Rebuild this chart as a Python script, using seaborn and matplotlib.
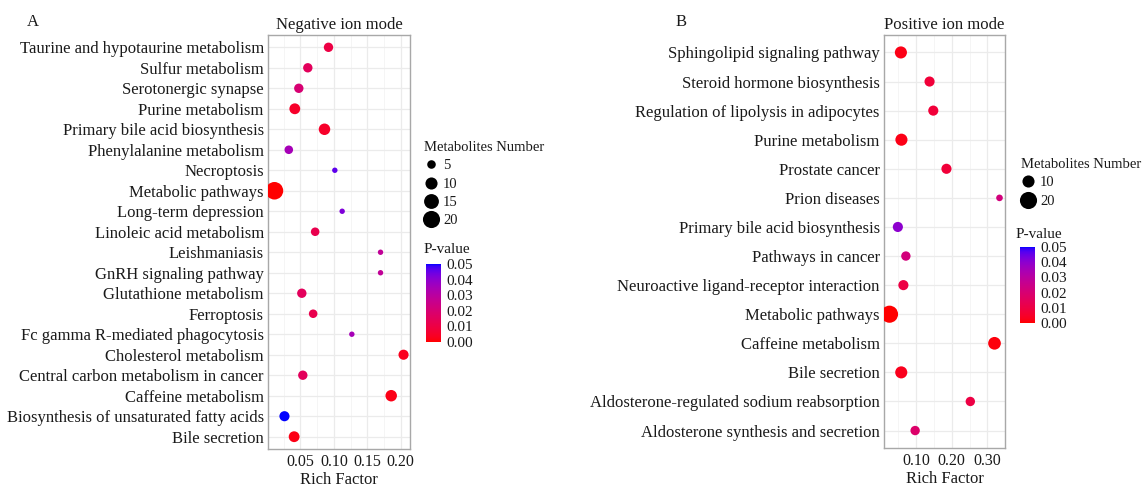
import numpy as np
import pandas as pd
import matplotlib
matplotlib.use("Agg")
import matplotlib.pyplot as plt
import seaborn as sns
from matplotlib.colors import ListedColormap, Normalize
from matplotlib.lines import Line2D
import matplotlib.cm as cm

# ---------------- data ----------------
neg_pathways = ["Taurine and hypotaurine metabolism", "Sulfur metabolism", "Serotonergic synapse",
                "Purine metabolism", "Primary bile acid biosynthesis", "Phenylalanine metabolism",
                "Necroptosis", "Metabolic pathways", "Long-term depression", "Linoleic acid metabolism",
                "Leishmaniasis", "GnRH signaling pathway", "Glutathione metabolism", "Ferroptosis",
                "Fc gamma R-mediated phagocytosis", "Cholesterol metabolism",
                "Central carbon metabolism in cancer", "Caffeine metabolism",
                "Biosynthesis of unsaturated fatty acids", "Bile secretion"]
neg_rich = [0.092, 0.061, 0.0475, 0.0415, 0.086, 0.0325, 0.1015, 0.011, 0.1125, 0.072,
            0.170, 0.170, 0.052, 0.069, 0.127, 0.2045, 0.0535, 0.186, 0.026, 0.0405]
neg_count = [6, 6, 6, 8, 9, 5, 2, 21, 2, 5, 2, 2, 6, 5, 2, 7, 6, 9, 7, 8]
neg_p = [0.010, 0.015, 0.020, 0.005, 0.005, 0.035, 0.046, 0.000, 0.042, 0.012,
         0.028, 0.028, 0.015, 0.012, 0.035, 0.003, 0.015, 0.002, 0.050, 0.002]

pos_pathways = ["Sphingolipid signaling pathway", "Steroid hormone biosynthesis",
                "Regulation of lipolysis in adipocytes", "Purine metabolism", "Prostate cancer",
                "Prion diseases", "Primary bile acid biosynthesis", "Pathways in cancer",
                "Neuroactive ligand-receptor interaction", "Metabolic pathways",
                "Caffeine metabolism", "Bile secretion",
                "Aldosterone-regulated sodium reabsorption", "Aldosterone synthesis and secretion"]
pos_rich = [0.057, 0.1375, 0.148, 0.0585, 0.185, 0.334, 0.0485, 0.071, 0.064, 0.025,
            0.320, 0.058, 0.252, 0.097]
pos_count = [10, 7, 7, 10, 7, 3, 7, 6, 7, 20, 11, 10, 6, 6]
pos_p = [0.002, 0.008, 0.008, 0.002, 0.008, 0.022, 0.040, 0.022, 0.010, 0.000,
         0.001, 0.003, 0.010, 0.018]

neg_size_breaks = [5, 10, 15, 20]
pos_size_breaks = [10, 20]
p_breaks = [0.00, 0.01, 0.02, 0.03, 0.04, 0.05]
neg_xticks = [0.05, 0.10, 0.15, 0.20]
neg_xminor = [0.025, 0.075, 0.125, 0.175]
pos_xticks = [0.10, 0.20, 0.30]
pos_xminor = [0.05, 0.15, 0.25]

# ---------------- colour scale: red -> blue interpolated in Lab (like ggplot) ----------------
def _to_lin(c):
    return np.where(c <= 0.04045, c / 12.92, ((c + 0.055) / 1.055) ** 2.4)

def _from_lin(c):
    c = np.clip(c, 0, 1)
    return np.where(c <= 0.0031308, 12.92 * c, 1.055 * c ** (1 / 2.4) - 0.055)

_M = np.array([[0.4124, 0.3576, 0.1805], [0.2126, 0.7152, 0.0722], [0.0193, 0.1192, 0.9505]])
_W = np.array([0.95047, 1.0, 1.08883])
_d = 6 / 29

def rgb2lab(rgb):
    xyz = _M @ _to_lin(np.asarray(rgb, float)) / _W
    f = np.where(xyz > _d ** 3, np.cbrt(xyz), xyz / (3 * _d ** 2) + 4 / 29)
    return np.array([116 * f[1] - 16, 500 * (f[0] - f[1]), 200 * (f[1] - f[2])])

def lab2rgb(lab):
    L, a, b = lab
    fy = (L + 16) / 116
    f = np.array([fy + a / 500, fy, fy - b / 200])
    xyz = np.where(f > _d, f ** 3, 3 * _d ** 2 * (f - 4 / 29)) * _W
    return _from_lin(np.linalg.solve(_M, xyz))

lab_lo, lab_hi = rgb2lab([1, 0, 0]), rgb2lab([0, 0, 1])
cmap = ListedColormap([lab2rgb(lab_lo + t * (lab_hi - lab_lo)) for t in np.linspace(0, 1, 256)])
pnorm = Normalize(0.0, 0.05)

AREA_PER_UNIT = 7.6  # pt^2 per metabolite

# ---------------- figure ----------------
sns.set_theme(style="white")
plt.rcParams['font.family'] = ['Liberation Serif', 'DejaVu Serif']
TXT = '#1a1a1a'

fig = plt.figure(figsize=(11.42, 4.87), dpi=100)
W, H = 1142.0, 487.0

def fbox(x0, y0, x1, y1):
    return [x0 / W, 1 - y1 / H, (x1 - x0) / W, (y1 - y0) / H]


def panel(box, names, rich, count, pvals, xticks, xminor, title):
    ax = fig.add_axes(box)
    df = pd.DataFrame({"Pathway": names, "Rich": rich, "Count": count, "P": pvals})
    sns.scatterplot(data=df, x="Rich", y="Pathway", hue="P", size="Count",
                    palette=cmap, hue_norm=pnorm, sizes=(0, AREA_PER_UNIT * 30),
                    size_norm=(0, 30), linewidth=0, edgecolor='none', legend=False,
                    ax=ax, zorder=3, alpha=1)
    n = len(names)
    ax.set_ylim(n - 1 + 0.6, -0.6)
    lo, hi = min(rich), max(rich)
    ax.set_xlim(lo - 0.05 * (hi - lo), hi + 0.05 * (hi - lo))
    ax.set_xticks(xticks)
    ax.set_xticklabels([f"{t:.2f}" for t in xticks])
    ax.set_xticks(xminor, minor=True)
    ax.grid(True, which='major', color='#EBEBEB', lw=0.9, zorder=0)
    ax.grid(True, which='minor', axis='x', color='#F4F4F4', lw=0.6, zorder=0)
    ax.set_axisbelow(True)
    for s in ax.spines.values():
        s.set_visible(True)
        s.set_color('#A8A8A8')
        s.set_linewidth(1.0)
    ax.tick_params(axis='both', which='major', length=2.2, width=0.7, color='#888888',
                   labelcolor=TXT)
    ax.tick_params(axis='y', labelsize=12, pad=0.8)
    ax.tick_params(axis='x', labelsize=11.5, pad=1.5)
    ax.tick_params(which='minor', length=0)
    ax.set_ylabel("")
    ax.set_xlabel("Rich Factor", fontsize=12, color=TXT, labelpad=1)
    ax.set_title(title, fontsize=12, color=TXT, pad=4)
    return ax


axL = panel(fbox(268, 35, 410, 449), neg_pathways, neg_rich, neg_count, neg_p,
            neg_xticks, neg_xminor, "Negative ion mode")
axR = panel(fbox(884, 35, 1005, 448), pos_pathways, pos_rich, pos_count, pos_p,
            pos_xticks, pos_xminor, "Positive ion mode")

fig.text(27 / W, 1 - 22 / H, "A", fontsize=12, color=TXT, va='center', ha='left')
fig.text(676 / W, 1 - 22 / H, "B", fontsize=12, color=TXT, va='center', ha='left')


def size_legend(ax, breaks, x, y):
    handles = [Line2D([], [], marker='o', linestyle='', color='black', markeredgewidth=0,
                      markersize=np.sqrt(AREA_PER_UNIT * b)) for b in breaks]
    leg = ax.legend(handles, [str(b) for b in breaks], title="Metabolites Number",
                    loc='upper left', bbox_to_anchor=(x / W, 1 - y / H),
                    bbox_transform=fig.transFigure, frameon=False, fontsize=10.5,
                    title_fontsize=10.5, labelspacing=0.35, handletextpad=0.3,
                    borderpad=0, borderaxespad=0, handlelength=1.0, alignment='left')
    for t in leg.get_texts():
        t.set_color(TXT)
    leg.get_title().set_color(TXT)
    return leg


def color_bar(x0, y0, x1, y1, title_xy):
    cax = fig.add_axes(fbox(x0, y0, x1, y1))
    cb = fig.colorbar(cm.ScalarMappable(norm=pnorm, cmap=cmap), cax=cax)
    cb.set_ticks(p_breaks)
    cb.set_ticklabels([f"{t:.2f}" for t in p_breaks])
    cb.outline.set_visible(False)
    cax.tick_params(length=0, labelsize=11, labelcolor=TXT, pad=4)
    fig.text(title_xy[0] / W, 1 - title_xy[1] / H, "P-value", fontsize=11, color=TXT,
             ha='left', va='center')


size_legend(axL, neg_size_breaks, 424, 141)
color_bar(426, 264, 441, 342, (424, 250))
size_legend(axR, pos_size_breaks, 1021, 158)
color_bar(1020, 247, 1035, 323, (1016, 234))

fig.savefig("out.png", dpi=100)
